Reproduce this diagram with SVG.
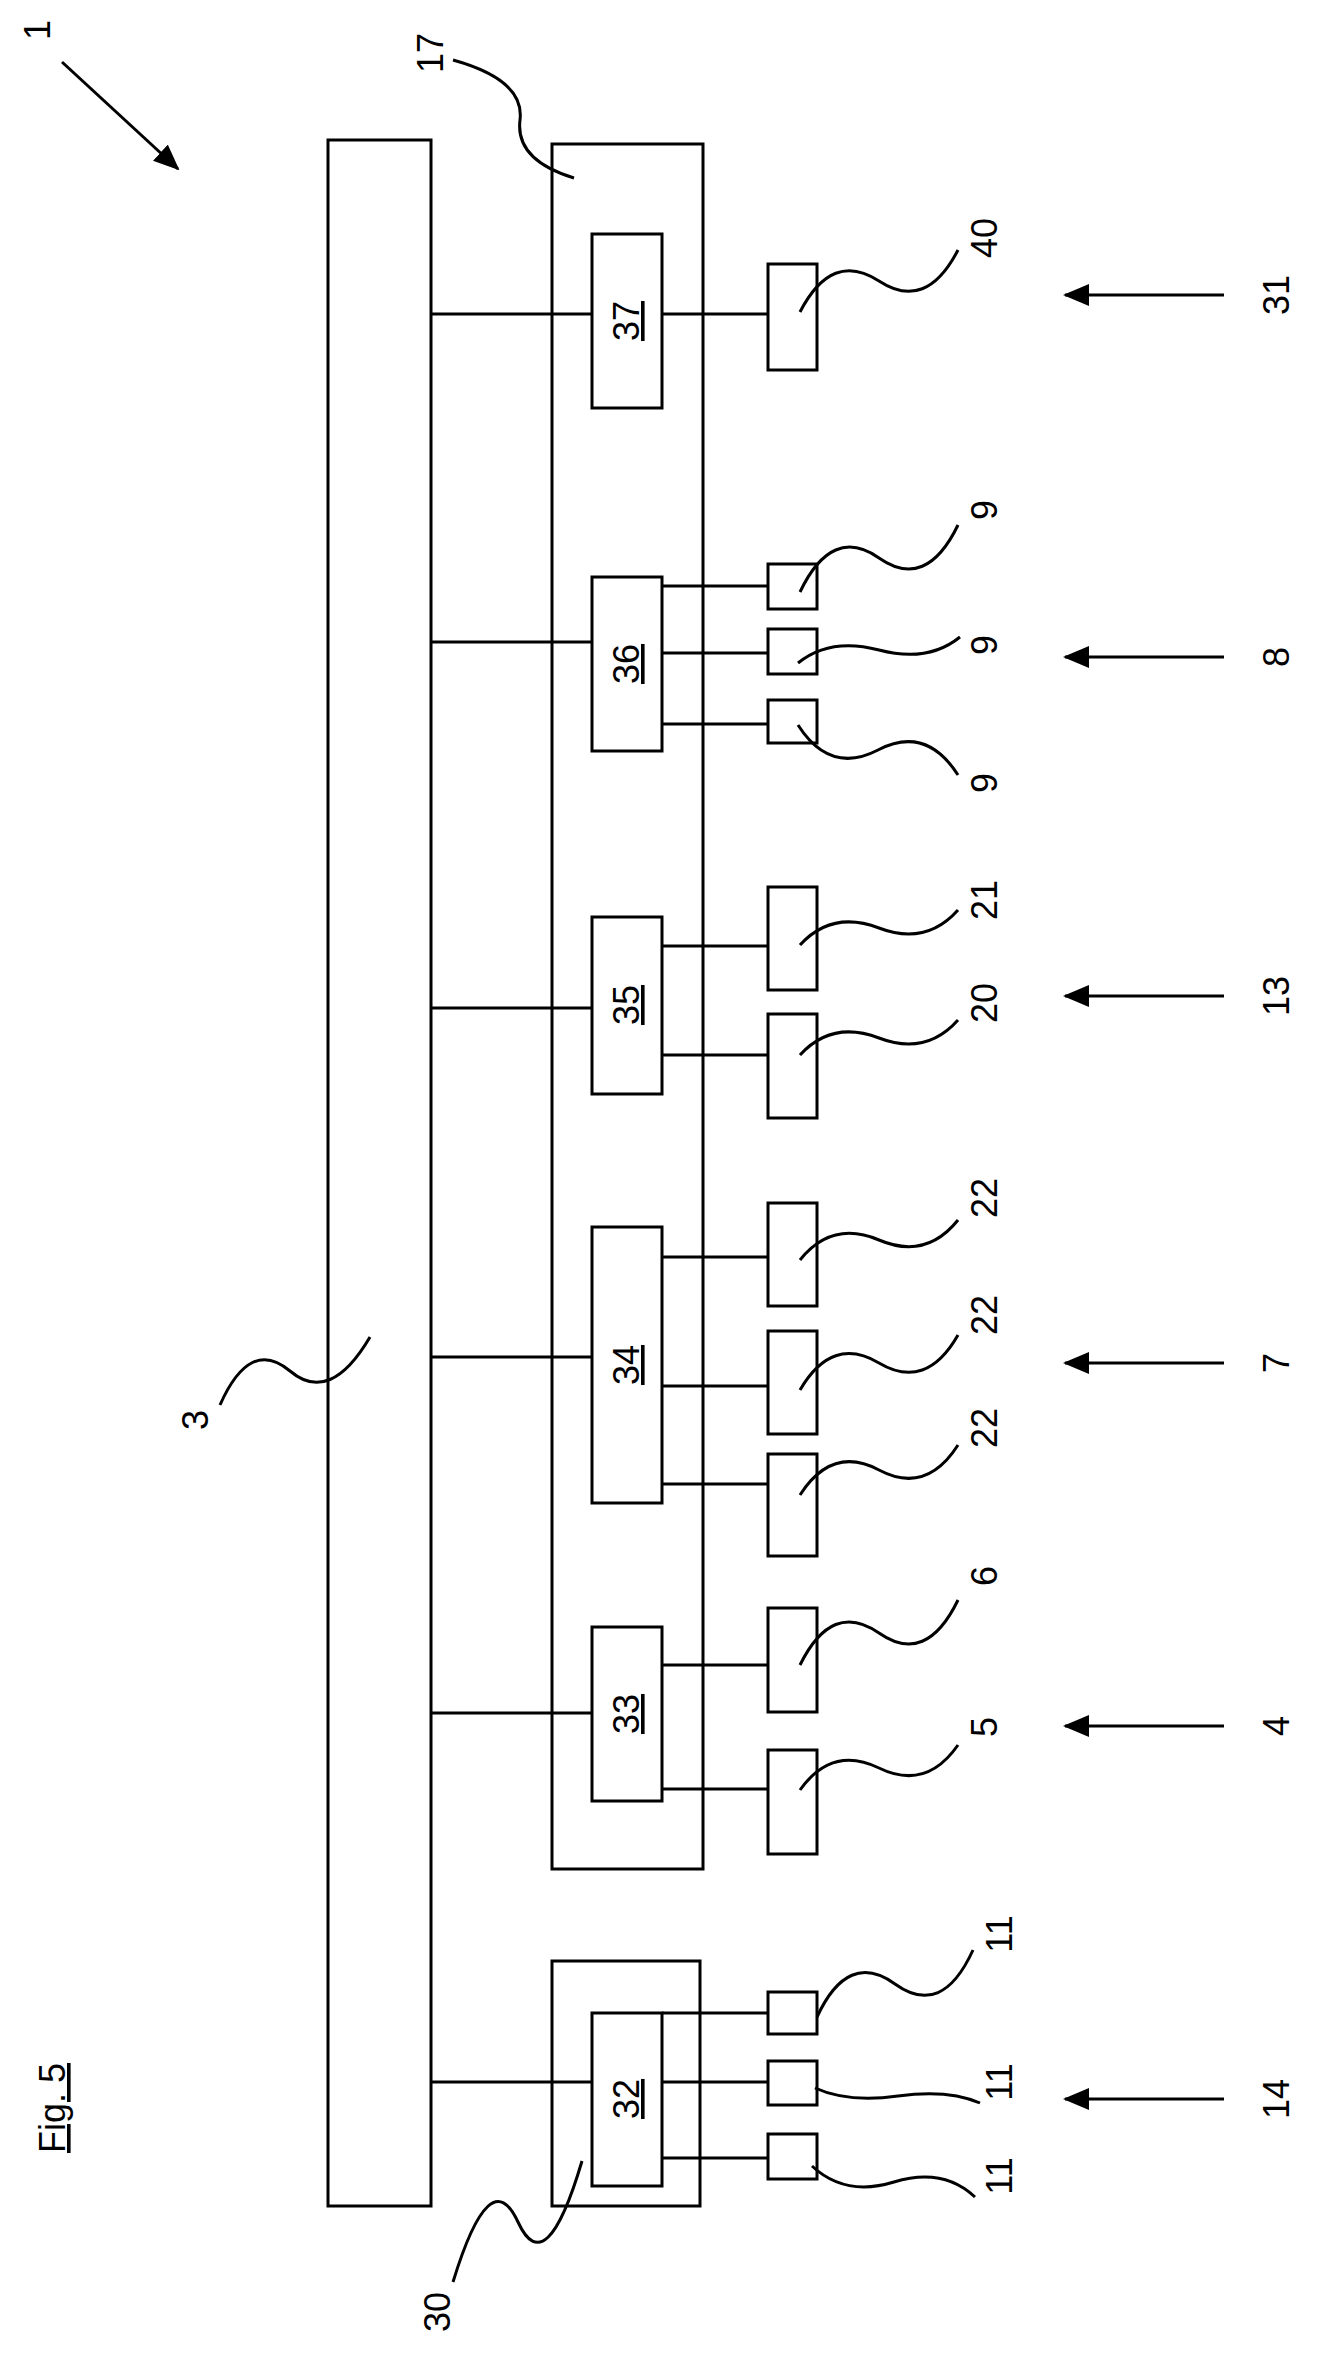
<svg xmlns="http://www.w3.org/2000/svg" width="1330" height="2379" viewBox="0 0 1330 2379">
<style>
rect{fill:none;stroke:#000;stroke-width:3}
line,path{fill:none;stroke:#000;stroke-width:3}
text{font-family:"Liberation Sans",Arial,sans-serif;font-size:36px;fill:#000;text-anchor:middle}
</style>
<defs><marker id="ah" markerWidth="10" markerHeight="10" refX="9" refY="5" orient="auto" markerUnits="userSpaceOnUse" viewBox="0 0 10 10"><path d="M0,0 L10,5 L0,10z" style="fill:#000;stroke:none"/></marker>
<marker id="a2" markerWidth="26" markerHeight="22" refX="24" refY="11" orient="auto" markerUnits="userSpaceOnUse"><path d="M0,0 L26,11 L0,22z" style="fill:#000;stroke:none"/></marker></defs>
<rect width="1330" height="2379" style="fill:#fff;stroke:none"/>
<g id="fig"><text transform="translate(53,2108) rotate(-90)" dy="12" text-decoration="underline">Fig. 5</text></g>
<g id="n1"><text transform="translate(38,30) rotate(-90)" dy="12">1</text></g>
<g id="n3"><rect x="328" y="140" width="103" height="2066"/><text transform="translate(196,1420) rotate(-90)" dy="12">3</text></g>
<g id="n17"><rect x="552" y="144" width="151" height="1725"/><text transform="translate(431,53) rotate(-90)" dy="12">17</text></g>
<g id="n30"><rect x="552" y="1961" width="148" height="245"/><text transform="translate(438,2312) rotate(-90)" dy="12">30</text></g>
<g id="n37"><rect x="592" y="234" width="70" height="174"/><text transform="translate(627,321) rotate(-90)" dy="12" text-decoration="underline">37</text></g>
<g id="n36"><rect x="592" y="577" width="70" height="174"/><text transform="translate(627,664) rotate(-90)" dy="12" text-decoration="underline">36</text></g>
<g id="n35"><rect x="592" y="917" width="70" height="177"/><text transform="translate(627,1005) rotate(-90)" dy="12" text-decoration="underline">35</text></g>
<g id="n34"><rect x="592" y="1227" width="70" height="276"/><text transform="translate(627,1365) rotate(-90)" dy="12" text-decoration="underline">34</text></g>
<g id="n33"><rect x="592" y="1627" width="70" height="174"/><text transform="translate(627,1714) rotate(-90)" dy="12" text-decoration="underline">33</text></g>
<g id="n32"><rect x="592" y="2013" width="70" height="173"/><text transform="translate(627,2099) rotate(-90)" dy="12" text-decoration="underline">32</text></g>
<g id="n40"><rect x="768" y="264" width="49" height="106"/><text transform="translate(985,238) rotate(-90)" dy="12">40</text></g>
<g id="n9a"><rect x="768" y="564" width="49" height="45"/><text transform="translate(985,510) rotate(-90)" dy="12">9</text></g>
<g id="n9b"><rect x="768" y="629" width="49" height="45"/><text transform="translate(985,645) rotate(-90)" dy="12">9</text></g>
<g id="n9c"><rect x="768" y="700" width="49" height="43"/><text transform="translate(985,783) rotate(-90)" dy="12">9</text></g>
<g id="n21"><rect x="768" y="887" width="49" height="103"/><text transform="translate(985,900) rotate(-90)" dy="12">21</text></g>
<g id="n20"><rect x="768" y="1014" width="49" height="104"/><text transform="translate(985,1003) rotate(-90)" dy="12">20</text></g>
<g id="n22a"><rect x="768" y="1203" width="49" height="103"/><text transform="translate(985,1198) rotate(-90)" dy="12">22</text></g>
<g id="n22b"><rect x="768" y="1331" width="49" height="103"/><text transform="translate(985,1315) rotate(-90)" dy="12">22</text></g>
<g id="n22c"><rect x="768" y="1454" width="49" height="102"/><text transform="translate(985,1428) rotate(-90)" dy="12">22</text></g>
<g id="n6"><rect x="768" y="1608" width="49" height="104"/><text transform="translate(985,1576) rotate(-90)" dy="12">6</text></g>
<g id="n5"><rect x="768" y="1750" width="49" height="104"/><text transform="translate(985,1727) rotate(-90)" dy="12">5</text></g>
<g id="n11a"><rect x="768" y="1992" width="49" height="42"/><text transform="translate(1000,1934) rotate(-90)" dy="12">11</text></g>
<g id="n11b"><rect x="768" y="2061" width="49" height="44"/><text transform="translate(1000,2082) rotate(-90)" dy="12">11</text></g>
<g id="n11c"><rect x="768" y="2134" width="49" height="45"/><text transform="translate(1000,2176) rotate(-90)" dy="12">11</text></g>
<g id="labels">
<text transform="translate(1277,295) rotate(-90)" dy="12">31</text>
<text transform="translate(1277,657) rotate(-90)" dy="12">8</text>
<text transform="translate(1277,996) rotate(-90)" dy="12">13</text>
<text transform="translate(1277,1363) rotate(-90)" dy="12">7</text>
<text transform="translate(1277,1726) rotate(-90)" dy="12">4</text>
<text transform="translate(1277,2099) rotate(-90)" dy="12">14</text>
</g>
<g id="connectors">
<line x1="431" y1="314" x2="592" y2="314"/><line x1="431" y1="642" x2="592" y2="642"/><line x1="431" y1="1008" x2="592" y2="1008"/><line x1="431" y1="1357" x2="592" y2="1357"/><line x1="431" y1="1713" x2="592" y2="1713"/><line x1="431" y1="2082" x2="592" y2="2082"/>
<line x1="662" y1="314" x2="768" y2="314"/>
<line x1="662" y1="586" x2="768" y2="586"/><line x1="662" y1="653" x2="768" y2="653"/><line x1="662" y1="724" x2="768" y2="724"/>
<line x1="662" y1="946" x2="768" y2="946"/><line x1="662" y1="1055" x2="768" y2="1055"/>
<line x1="662" y1="1257" x2="768" y2="1257"/><line x1="662" y1="1386" x2="768" y2="1386"/><line x1="662" y1="1484" x2="768" y2="1484"/>
<line x1="662" y1="1665" x2="768" y2="1665"/><line x1="662" y1="1789" x2="768" y2="1789"/>
<line x1="662" y1="2013" x2="768" y2="2013"/><line x1="662" y1="2082" x2="768" y2="2082"/><line x1="662" y1="2158" x2="768" y2="2158"/>
<line x1="1224" y1="295" x2="1065" y2="295" marker-end="url(#a2)"/>
<line x1="1224" y1="657" x2="1065" y2="657" marker-end="url(#a2)"/>
<line x1="1224" y1="996" x2="1065" y2="996" marker-end="url(#a2)"/>
<line x1="1224" y1="1363" x2="1065" y2="1363" marker-end="url(#a2)"/>
<line x1="1224" y1="1726" x2="1065" y2="1726" marker-end="url(#a2)"/>
<line x1="1224" y1="2099" x2="1065" y2="2099" marker-end="url(#a2)"/>
<line x1="62" y1="62" x2="178" y2="169" marker-end="url(#a2)"/>
<path d="M800,312 Q832,250 879,281 T958,250"/>
<path d="M800,592 Q832,525 879,558 T958,525"/>
<path d="M798,663 Q830,637 879,650 T960,637"/>
<path d="M798,725 Q830,775 878,750 T958,775"/>
<path d="M800,945 Q832,910 879,928 T958,910"/>
<path d="M800,1055 Q832,1020 879,1038 T958,1020"/>
<path d="M800,1260 Q832,1220 879,1240 T958,1220"/>
<path d="M800,1390 Q832,1335 879,1363 T958,1335"/>
<path d="M800,1495 Q832,1445 879,1470 T958,1445"/>
<path d="M800,1665 Q832,1600 879,1633 T958,1600"/>
<path d="M800,1790 Q832,1745 879,1768 T958,1745"/>
<path d="M817,2017 Q848,1950 895,1984 T973,1950"/>
<path d="M815,2088 Q848,2103 898,2096 T980,2103"/>
<path d="M812,2166 Q845,2197 894,2182 T975,2197"/>
<path d="M453,60 Q525,80 520,120 T574,178"/>
<path d="M220,1405 Q250,1337 290,1371 T370,1337"/>
<path d="M453,2282 Q490,2161 518,2222 T582,2161"/>
</g>
</svg>
